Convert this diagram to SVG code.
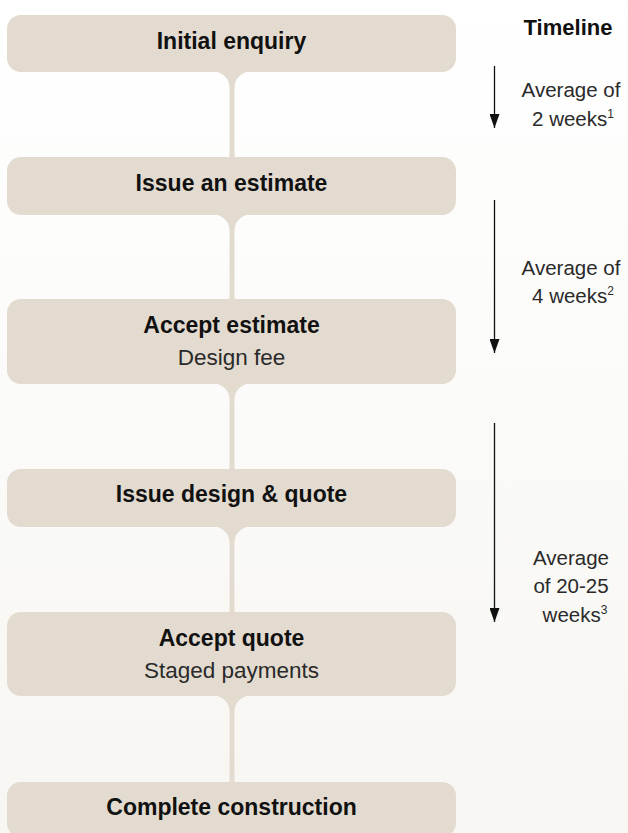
<svg xmlns="http://www.w3.org/2000/svg" width="628" height="833" viewBox="0 0 628 833">
<defs>
<linearGradient id="bg" x1="0" y1="0" x2="0" y2="1">
<stop offset="0" stop-color="#ffffff"/>
<stop offset="1" stop-color="#f7f6f2"/>
</linearGradient>
<marker id="ah" viewBox="0 0 14 10" refX="14" refY="5" markerWidth="14" markerHeight="10" markerUnits="userSpaceOnUse" orient="auto">
<path d="M0 0 L14 5 L0 10 Z" fill="#111"/>
</marker>
<style>
.box{fill:#e3dbcf}
.con{fill:#e3dbcf}
.b{font-family:"Liberation Sans",Arial,sans-serif;font-weight:bold;font-size:23px;fill:#111;text-anchor:middle}
.r{font-family:"Liberation Sans",Arial,sans-serif;font-size:22.5px;fill:#2a2a2a;text-anchor:middle}
.t{font-family:"Liberation Sans",Arial,sans-serif;font-size:20.5px;fill:#2a2a2a;text-anchor:middle}
.tl{font-family:"Liberation Sans",Arial,sans-serif;font-weight:bold;font-size:22px;fill:#111;text-anchor:middle}
.sup{font-size:12px}
.arr{stroke:#111;stroke-width:1.3;fill:none}
</style>
</defs>
<rect width="628" height="833" fill="url(#bg)"/>

<g id="connectors">
<path class="con" d="M213.5 71.5 L250.5 71.5 A16 16 0 0 0 234.5 87.5 L234.5 157.5 L229.5 157.5 L229.5 87.5 A16 16 0 0 0 213.5 71.5 Z"/>
<path class="con" d="M213.5 214.5 L250.5 214.5 A16 16 0 0 0 234.5 230.5 L234.5 299.5 L229.5 299.5 L229.5 230.5 A16 16 0 0 0 213.5 214.5 Z"/>
<path class="con" d="M213.5 383.5 L250.5 383.5 A16 16 0 0 0 234.5 399.5 L234.5 469.5 L229.5 469.5 L229.5 399.5 A16 16 0 0 0 213.5 383.5 Z"/>
<path class="con" d="M213.5 526.5 L250.5 526.5 A16 16 0 0 0 234.5 542.5 L234.5 612.5 L229.5 612.5 L229.5 542.5 A16 16 0 0 0 213.5 526.5 Z"/>
<path class="con" d="M213.5 695.5 L250.5 695.5 A16 16 0 0 0 234.5 711.5 L234.5 782.5 L229.5 782.5 L229.5 711.5 A16 16 0 0 0 213.5 695.5 Z"/>
</g>

<g id="initial-enquiry">
<rect class="box" x="7" y="15" width="449" height="57" rx="14"/>
<text class="b" x="231.5" y="49">Initial enquiry</text>
</g>
<g id="issue-estimate">
<rect class="box" x="7" y="157" width="449" height="58" rx="14"/>
<text class="b" x="231.5" y="191">Issue an estimate</text>
</g>
<g id="accept-estimate">
<rect class="box" x="7" y="299" width="449" height="85" rx="14"/>
<text class="b" x="231.5" y="333">Accept estimate</text>
<text class="r" x="231.5" y="365">Design fee</text>
</g>
<g id="issue-design-quote">
<rect class="box" x="7" y="469" width="449" height="58" rx="14"/>
<text class="b" x="231.5" y="502">Issue design &amp; quote</text>
</g>
<g id="accept-quote">
<rect class="box" x="7" y="612" width="449" height="84" rx="14"/>
<text class="b" x="231.5" y="646">Accept quote</text>
<text class="r" x="231.5" y="678">Staged payments</text>
</g>
<g id="complete-construction">
<rect class="box" x="7" y="782" width="449" height="55" rx="14"/>
<text class="b" x="231.5" y="815">Complete construction</text>
</g>

<g id="timeline">
<text class="tl" x="568" y="35">Timeline</text>
<line class="arr" x1="494.5" y1="66" x2="494.5" y2="128" marker-end="url(#ah)"/>
<text class="t" x="571" y="97">Average of</text>
<text class="t" x="573" y="126">2 weeks<tspan class="sup" dy="-8">1</tspan></text>
<line class="arr" x1="494.5" y1="200" x2="494.5" y2="353" marker-end="url(#ah)"/>
<text class="t" x="571" y="275">Average of</text>
<text class="t" x="573" y="303">4 weeks<tspan class="sup" dy="-8">2</tspan></text>
<line class="arr" x1="494.5" y1="423" x2="494.5" y2="622" marker-end="url(#ah)"/>
<text class="t" x="571" y="565">Average</text>
<text class="t" x="571" y="593">of 20-25</text>
<text class="t" x="575" y="622">weeks<tspan class="sup" dy="-8">3</tspan></text>
</g>
</svg>
